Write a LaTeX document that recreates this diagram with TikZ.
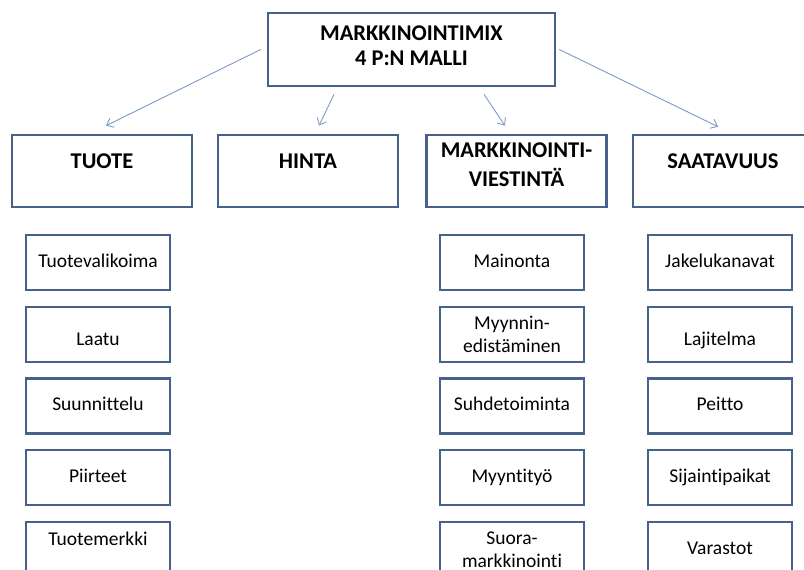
\documentclass[tikz,border=0pt]{standalone}
\usepackage{fontspec}
\setmainfont{Carlito}[Ligatures = NoCommon]
\usetikzlibrary{arrows.meta}

\definecolor{boxline}{RGB}{70,98,136}
\definecolor{arrowline}{RGB}{125,155,198}

\begin{document}
\begin{tikzpicture} [x = 1pt, y = -1pt,
  mainbox/.style = {draw = boxline, line width = 2.6pt, fill = white, align = center,
    minimum width = 287pt, minimum height = 73pt, inner sep = 2pt, text depth = 8pt,
    font = \fontsize{22.5}{25}\selectfont\bfseries},
  headbox/.style = {draw = boxline, line width = 2.6pt, fill = white, align = center,
    minimum width = 180pt, minimum height = 72pt, inner sep = 2pt,
    font = \fontsize{22.5}{29}\selectfont\bfseries},
  itembox/.style = {draw = boxline, line width = 2.6pt, fill = white, align = center,
    minimum width = 144pt, minimum height = 55pt, inner sep = 2pt,
    font = \fontsize{19.5}{23}\selectfont},
  oneline/.style = {text height = 14pt, text depth = 5pt},
  link/.style = {draw = arrowline, line width = 0.9pt, -{Straight Barb[length = 6pt, width = 10pt]}}]
\clip (0, 0) rectangle (804, 570);
\fill[white] (0, 0) rectangle (804, 570);
% top level
\node[mainbox] (mix) at (411.5, 49.5) {MARKKINOINTIMIX\\4 P:N MALLI};
% the four P's
\node[headbox, text height = 14pt, text depth = 20pt] (tuote) at (102, 171) {TUOTE};
\node[headbox, text height = 14pt, text depth = 20pt] (hinta) at (308, 171) {HINTA};
\node[headbox, text depth = 12pt] (viest) at (516.5, 171) {MARKKINOINTI-\\VIESTINTÄ};
\node[headbox, text height = 14pt, text depth = 20pt] (saat) at (723, 171) {SAATAVUUS};
\draw[link] ([xshift = -6pt]mix.west) -- ([xshift = 4pt, yshift = 8pt]tuote.north);
\draw[link] ([xshift = -77.5pt, yshift = -7pt]mix.south) -- ([xshift = 11pt, yshift = 8pt]hinta.north);
\draw[link] ([xshift = 72.5pt, yshift = -7pt]mix.south) -- ([xshift = -11.5pt, yshift = 8pt]viest.north);
\draw[link] ([xshift = 3pt]mix.east) -- ([xshift = -5pt, yshift = 7pt]saat.north);
% tuote
\node[itembox, oneline] (tuote1) at (98, 262.5) {Tuotevalikoima};
\node[itembox, oneline, text height = 26pt] (tuote2) at (98, 334.5) {Laatu};
\node[itembox, oneline] (tuote3) at (98, 406) {Suunnittelu};
\node[itembox, oneline] (tuote4) at (98, 477.5) {Piirteet};
\node[itembox, oneline, text depth = 23pt] (tuote5) at (98, 549.5) {Tuotemerkki};
% markkinointiviestinta
\node[itembox, oneline] (viest1) at (512, 262.5) {Mainonta};
\node[itembox] (viest2) at (512, 334.5) {Myynnin-\\edistäminen};
\node[itembox, oneline] (viest3) at (512, 406) {Suhdetoiminta};
\node[itembox, oneline] (viest4) at (512, 477.5) {Myyntityö};
\node[itembox] (viest5) at (512, 549.5) {Suora-\\markkinointi};
% saatavuus
\node[itembox, oneline] (saat1) at (720, 262.5) {Jakelukanavat};
\node[itembox, oneline, text height = 26pt] (saat2) at (720, 334.5) {Lajitelma};
\node[itembox, oneline] (saat3) at (720, 406) {Peitto};
\node[itembox, oneline] (saat4) at (720, 477.5) {Sijaintipaikat};
\node[itembox, oneline] (saat5) at (720, 549.5) {Varastot};
\end{tikzpicture}
\end{document}
